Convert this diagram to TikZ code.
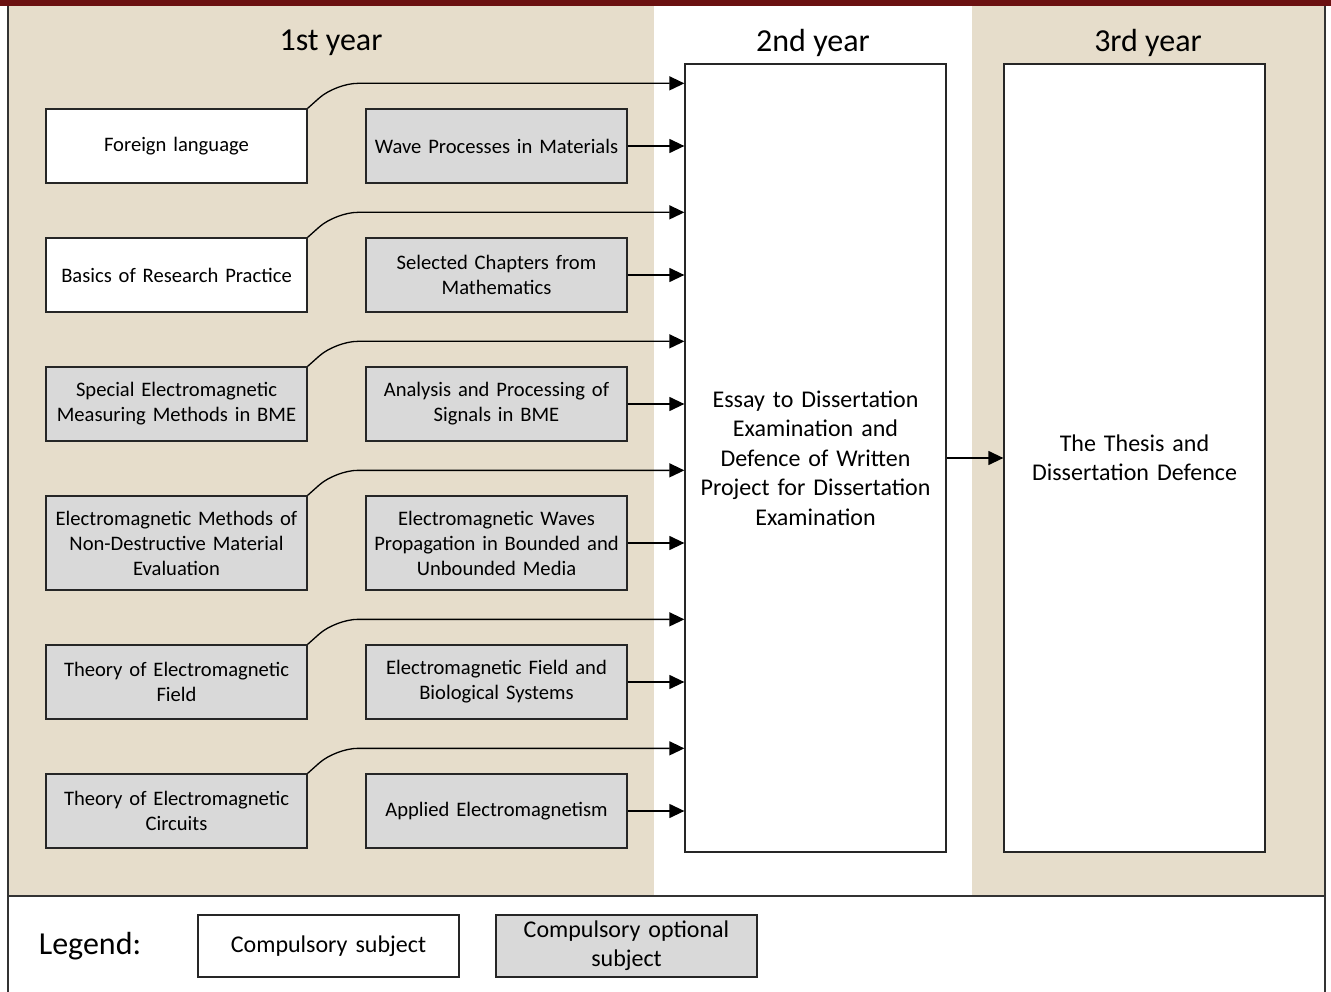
\documentclass[tikz,border=0pt]{standalone}
\usepackage{fontspec}
\setmainfont{Carlito}
\usetikzlibrary{arrows.meta}
\definecolor{beige}{HTML}{E6DDCB}
\definecolor{boxgrey}{HTML}{D9D9D9}
\definecolor{barred}{HTML}{6B1111}
\begin{document}
\begin{tikzpicture}[x=1pt,y=-1pt,
  subj/.style={draw=black!85,line width=1.3pt,minimum width=261pt,minimum height=74pt,
    text width=258pt,align=center,inner sep=0pt,font=\fontsize{20.6}{25}\selectfont},
  comp/.style={subj,fill=white},
  opt/.style={subj,fill=boxgrey},
  conn/.style={line width=1.3pt,-{Triangle[length=15pt,width=14pt]}},
  year/.style={font=\fontsize{32}{36}\selectfont}]
\useasboundingbox (0,0) rectangle (1331,992);
% background and frame
\fill[beige] (8,6) rectangle (654,896);
\fill[beige] (972,6) rectangle (1325,896);
\fill[barred] (0,0) rectangle (1331,6);
\draw[line width=1.3pt,black!80] (8,6) -- (8,992) (1325,6) -- (1325,992) (8,896) -- (1325,896);
\node[year] (y1) at (331,43) {1st year};
\node[year] (y2) at (813,43) {2nd year};
\node[year] (y3) at (1148,43) {3rd year};
% 1st year subjects
\node[comp] (fl) at (176.5,146) {Foreign language};
\node[opt] (wp) at (496.5,146) {Wave Processes in Materials};
\node[comp] (br) at (176.5,275) {Basics of Research Practice};
\node[opt] (sc) at (496.5,275) {Selected Chapters from\\Mathematics};
\node[opt] (sm) at (176.5,404) {Special Electromagnetic\\Measuring Methods in BME};
\node[opt] (ap) at (496.5,404) {Analysis and Processing of\\Signals in BME};
\node[opt,minimum height=94pt] (nd) at (176.5,543) {Electromagnetic Methods of\\Non-Destructive Material\\Evaluation};
\node[opt,minimum height=94pt] (wv) at (496.5,543) {Electromagnetic Waves\\Propagation in Bounded and\\Unbounded Media};
\node[opt] (tf) at (176.5,682) {Theory of Electromagnetic\\Field};
\node[opt] (fb) at (496.5,682) {Electromagnetic Field and\\Biological Systems};
\node[opt] (tc) at (176.5,811) {Theory of Electromagnetic\\Circuits};
\node[opt] (ae) at (496.5,811) {Applied Electromagnetism};
% 2nd and 3rd year
\node[comp,minimum height=788pt,font=\fontsize{24}{29.5}\selectfont] (essay) at (815.5,458)
  {Essay to Dissertation\\Examination and\\Defence of Written\\Project for Dissertation\\Examination};
\node[comp,minimum height=788pt,font=\fontsize{24}{29.5}\selectfont] (thesis) at (1134.5,458)
  {The Thesis and\\Dissertation Defence};
\foreach \a/\b in {fl/wp,br/sc,sm/ap,nd/wv,tf/fb,tc/ae}{
  \draw[conn,rounded corners=22pt] (\a.north east) -- ++(28,-25) coordinate (t) -- (t -| essay.west);
  \draw[conn] (\b.east) -- (\b.east -| essay.west);
}
\draw[conn] (essay) -- (thesis);
% legend
\node[font=\fontsize{32}{36}\selectfont] (lg) at (90,946) {Legend:};
\node[comp,minimum height=62pt,font=\fontsize{24}{29}\selectfont] (lc) at (328.5,946) {Compulsory subject};
\node[opt,minimum height=62pt,font=\fontsize{24}{29}\selectfont] (lo) at (626.5,946) {Compulsory optional\\subject};
\end{tikzpicture}
\end{document}
